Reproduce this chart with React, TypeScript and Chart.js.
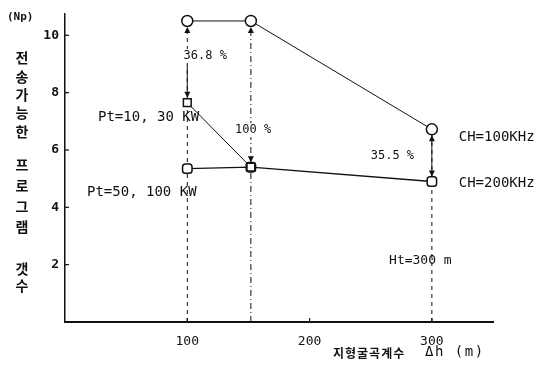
import React, { useEffect, useRef } from "react";
import { Chart, registerables } from "chart.js";

Chart.register(...registerables);

// ---- data ----
const xTickValues = [100, 200, 300];
const yTickValues = [2, 4, 6, 8, 10];

const ch100X = [100, 152, 300];
const ch100Y = [10.5, 10.5, 6.72];

const pt1030X = [100, 152];
const pt1030Y = [7.65, 5.4];

const pt50X = [100, 152, 300];
const pt50Y = [5.35, 5.4, 4.9];

// vertical comparison arrows (x, from top value to bottom value)
const arrowX = [100, 152, 300];
const arrowTop = [10.5, 10.5, 6.72];
const arrowBottom = [7.65, 5.4, 4.9];
const arrowLabels = ["36.8 %", "100 %", "35.5 %"];
const arrowLabelX = [97, 139, 250];
const arrowLabelY = [9.28, 6.69, 5.79];

const noteTexts = ["Pt=10, 30 KW", "Pt=50, 100 KW", "CH=100KHz", "CH=200KHz", "Ht=300 m"];
const noteX = [27, 18, 322, 322, 265];
const noteY = [7.14, 4.52, 6.45, 4.83, 2.14];

const yTitleChars = ["전", "송", "가", "능", "한", "프", "로", "그", "램", "갯", "수"];
const unitLabel = "(Np)";
const xTitleKr = "지형굴곡계수";
const xTitleSym = "Δh (m)";

const pts = (xs: number[], ys: number[]) => xs.map((x, i) => ({ x, y: ys[i] }));

const MONO = '"DejaVu Sans Mono", "Liberation Mono", monospace';
const KR = '"Noto Sans CJK KR", sans-serif';
const Y_TITLE_POS = [58, 77, 95, 113, 132, 165, 186, 207, 227, 269, 286];

const overlay = {
  id: "overlay",
  afterDatasetsDraw(chart: any) {
    const ctx = chart.ctx;
    const xs = chart.scales.x;
    const ys = chart.scales.y;
    const area = chart.chartArea;
    ctx.save();
    ctx.strokeStyle = "#111";
    ctx.fillStyle = "#111";
    ctx.lineWidth = 1.2;
    // inward tick marks
    yTickValues.forEach((v) => {
      const py = ys.getPixelForValue(v);
      ctx.beginPath();
      ctx.moveTo(area.left, py);
      ctx.lineTo(area.left + 4, py);
      ctx.stroke();
    });
    xTickValues.forEach((v) => {
      const px = xs.getPixelForValue(v);
      ctx.beginPath();
      ctx.moveTo(px, area.bottom);
      ctx.lineTo(px, area.bottom - 4);
      ctx.stroke();
    });
    // arrows
    ctx.lineWidth = 1;
    arrowX.forEach((xv, i) => {
      const px = xs.getPixelForValue(xv);
      const pt = ys.getPixelForValue(arrowTop[i]);
      const pb = ys.getPixelForValue(arrowBottom[i]);
      if (i !== 1) {
        const start = i === 0 ? ys.getPixelForValue(arrowLabelY[0]) + 9 : pt + 6;
        ctx.beginPath();
        ctx.moveTo(px, start);
        ctx.lineTo(px, pb - 6);
        ctx.stroke();
      }
      ctx.beginPath();
      ctx.moveTo(px, pt + 6);
      ctx.lineTo(px - 3, pt + 12);
      ctx.lineTo(px + 3, pt + 12);
      ctx.closePath();
      ctx.fill();
      ctx.beginPath();
      ctx.moveTo(px, pb - 5);
      ctx.lineTo(px - 3, pb - 11);
      ctx.lineTo(px + 3, pb - 11);
      ctx.closePath();
      ctx.fill();
    });
    // labels
    ctx.textBaseline = "middle";
    ctx.textAlign = "left";
    ctx.font = `12px ${MONO}`;
    arrowLabels.forEach((t, i) => {
      const px = xs.getPixelForValue(arrowLabelX[i]);
      const py = ys.getPixelForValue(arrowLabelY[i]);
      ctx.fillStyle = "#fff";
      ctx.fillRect(px - 2, py - 7, ctx.measureText(t).width + 4, 14);
      ctx.fillStyle = "#111";
      ctx.fillText(t, px, py);
    });
    noteTexts.forEach((t, i) => {
      ctx.font = i === 4 ? `13px ${MONO}` : `14px ${MONO}`;
      ctx.fillText(t, xs.getPixelForValue(noteX[i]), ys.getPixelForValue(noteY[i]));
    });
    // unit label
    ctx.font = `bold 11px ${MONO}`;
    ctx.fillText(unitLabel, 7, 17);
    // vertical y title
    ctx.font = `bold 14px ${KR}`;
    ctx.textAlign = "center";
    yTitleChars.forEach((c, i) => ctx.fillText(c, 22, Y_TITLE_POS[i]));
    // x title
    ctx.textAlign = "left";
    ctx.font = `bold 12px ${KR}`;
    (ctx as any).letterSpacing = "1px";
    ctx.fillText(xTitleKr, 333, 353);
    ctx.font = `14px ${MONO}`;
    (ctx as any).letterSpacing = "1.5px";
    ctx.fillText(xTitleSym, 425, 352);
    (ctx as any).letterSpacing = "0px";
    ctx.restore();
  },
};

export default function App() {
  const ref = useRef<HTMLCanvasElement | null>(null);
  useEffect(() => {
    if (!ref.current) return;
    const black = "#111";
    const guide = (x: number, top: number, dash: number[]) => ({
      data: [
        { x, y: 0 },
        { x, y: top },
      ],
      borderColor: black,
      borderWidth: 1,
      borderDash: dash,
      pointRadius: 0,
      showLine: true,
    });
    const chart = new Chart(ref.current, {
      type: "scatter",
      data: {
        datasets: [
          {
            data: pts(ch100X, ch100Y),
            showLine: true,
            borderColor: black,
            borderWidth: 1,
            pointStyle: "circle",
            pointRadius: 5.5,
            pointBackgroundColor: "#fff",
            pointBorderColor: black,
            pointBorderWidth: 1.5,
          },
          {
            data: pts(pt1030X, pt1030Y),
            showLine: true,
            borderColor: black,
            borderWidth: 1,
            pointStyle: "rect",
            pointRadius: 5.5,
            pointBackgroundColor: "#fff",
            pointBorderColor: black,
            pointBorderWidth: 1.5,
          },
          {
            data: pts(pt50X, pt50Y),
            showLine: true,
            borderColor: black,
            borderWidth: 1.3,
            pointStyle: "rectRounded",
            pointRadius: 5.5,
            pointBackgroundColor: "#fff",
            pointBorderColor: black,
            pointBorderWidth: 1.5,
          },
          guide(arrowX[0], arrowTop[0], [4, 4]),
          guide(arrowX[1], arrowTop[1], [6, 3, 1, 3]),
          guide(arrowX[2], arrowTop[2], [4, 4]),
        ],
      },
      options: {
        animation: false,
        responsive: true,
        maintainAspectRatio: false,
        layout: { padding: { top: 10, right: 43, left: 0, bottom: 0 } },
        plugins: { legend: { display: false }, tooltip: { enabled: false } },
        scales: {
          x: {
            type: "linear",
            min: 0,
            max: 350,
            grid: { display: false, drawTicks: false },
            border: { display: true, color: black, width: 2 },
            afterBuildTicks: (s: any) => {
              s.ticks = xTickValues.map((v) => ({ value: v }));
            },
            afterFit: (s: any) => {
              s.height = 43;
            },
            ticks: {
              padding: 12,
              color: black,
              font: { family: MONO, size: 13 },
              maxRotation: 0,
            },
          },
          y: {
            type: "linear",
            min: 0,
            max: 10.75,
            grid: { display: false, drawTicks: false },
            border: { display: true, color: black, width: 1.5 },
            afterBuildTicks: (s: any) => {
              s.ticks = yTickValues.map((v) => ({ value: v }));
            },
            afterFit: (s: any) => {
              s.width = 65;
            },
            ticks: {
              padding: 6,
              color: black,
              font: { family: MONO, size: 13, weight: "bold" },
            },
          },
        },
      },
      plugins: [overlay],
    } as any);
    return () => chart.destroy();
  }, []);
  return (
    <div style={{ position: "fixed", left: 0, top: 0, width: 536, height: 365, background: "#fff" }}>
      <canvas ref={ref} />
    </div>
  );
}
